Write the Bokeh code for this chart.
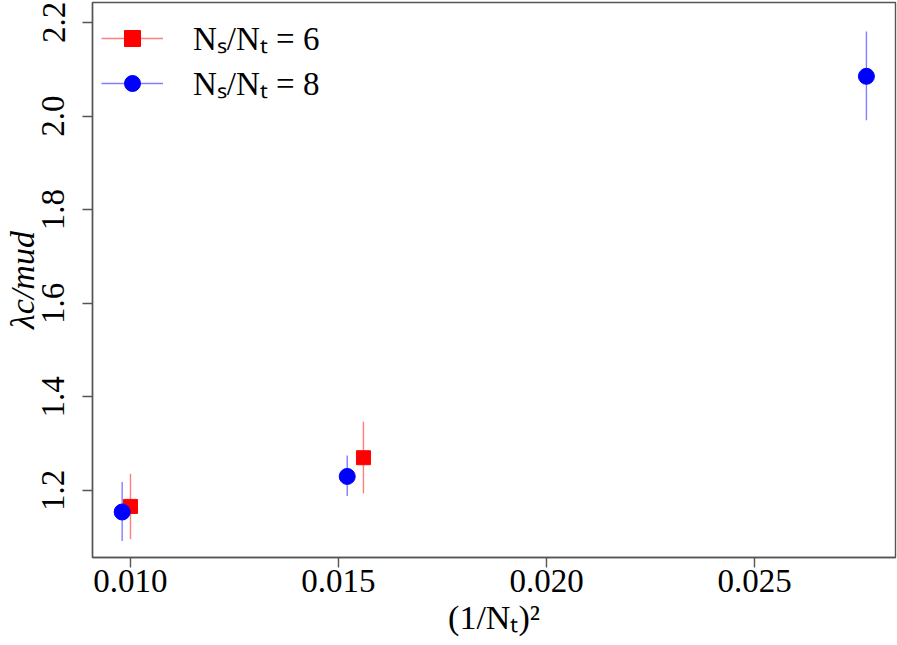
import numpy as np
from bokeh.plotting import figure
from bokeh.models import (Range1d, FixedTicker, Legend, LegendItem,
                          ColumnDataSource)
from bokeh.core.properties import value
from bokeh.embed import file_html
from bokeh.resources import INLINE

# ---- data ----
x_ns6 = [0.0100, 0.0156]
y_ns6 = [1.166, 1.270]
lo_ns6 = [1.096, 1.194]
hi_ns6 = [1.236, 1.347]

x_ns8 = [0.0098, 0.01521, 0.02769]
y_ns8 = [1.154, 1.230, 2.085]
lo_ns8 = [1.092, 1.188, 1.991]
hi_ns8 = [1.218, 1.275, 2.181]

x_ticks = [0.010, 0.015, 0.020, 0.025]
x_tick_labels = ["0.010", "0.015", "0.020", "0.025"]
y_ticks = [1.2, 1.4, 1.6, 1.8, 2.0, 2.2]
y_tick_labels = ["1.2", "1.4", "1.6", "1.8", "2.0", "2.2"]

series_labels = ["Nₛ/Nₜ = 6", "Nₛ/Nₜ = 8"]
x_title = "(1/Nₜ)²"
y_title = "λc/mud"

FONT = "Liberation Serif"
AXC = "#555555"

p = figure(width=897, height=645, output_backend="svg", toolbar_location=None,
           x_range=Range1d(0.009087, 0.028389), y_range=Range1d(1.0568, 2.2427),
           min_border_left=92, min_border_right=2, min_border_top=2,
           min_border_bottom=88)
p.grid.visible = False
p.outline_line_color = AXC
p.outline_line_width = 1.4

for ax, ticks, labels in ((p.xaxis[0], x_ticks, x_tick_labels),
                          (p.yaxis[0], y_ticks, y_tick_labels)):
    ax.ticker = FixedTicker(ticks=ticks)
    ax.major_label_overrides = {t: l for t, l in zip(ticks, labels)}
    ax.minor_tick_line_color = None
    ax.major_tick_out = 10
    ax.major_tick_in = 0
    ax.major_tick_line_color = AXC
    ax.major_tick_line_width = 1.4
    ax.axis_line_color = AXC
    ax.axis_line_width = 1.4
    ax.major_label_text_font = FONT
    ax.major_label_text_font_size = "33px"
    ax.major_label_text_color = "black"
    ax.axis_label_text_font = FONT
    ax.axis_label_text_font_size = "34px"
    ax.axis_label_text_color = "black"
p.xaxis.major_label_standoff = 2
p.yaxis.major_label_standoff = 18
p.yaxis.major_label_orientation = "vertical"

p.xaxis.axis_label = x_title
p.xaxis.axis_label_text_font_style = "normal"
p.xaxis.axis_label_standoff = 4
p.yaxis.axis_label = y_title
p.yaxis.axis_label_text_font_style = "italic"
p.yaxis.axis_label_standoff = -1

src6 = ColumnDataSource(dict(x=x_ns6, y=y_ns6, lo=lo_ns6, hi=hi_ns6))
src8 = ColumnDataSource(dict(x=x_ns8, y=y_ns8, lo=lo_ns8, hi=hi_ns8))

seg6 = p.segment(x0="x", y0="lo", x1="x", y1="hi", source=src6,
                 line_color="red", line_alpha=0.5, line_width=1.4)
sc6 = p.scatter(x="x", y="y", source=src6, marker="square", size=14,
                fill_color="red", line_color="red")
seg8 = p.segment(x0="x", y0="lo", x1="x", y1="hi", source=src8,
                 line_color="blue", line_alpha=0.5, line_width=1.4)
sc8 = p.scatter(x="x", y="y", source=src8, marker="circle", size=16,
                fill_color="blue", line_color="blue")

legend = Legend(items=[LegendItem(label=value(series_labels[0]), renderers=[seg6, sc6]),
                       LegendItem(label=value(series_labels[1]), renderers=[seg8, sc8])],
                location=(9, 452), border_line_color=None,
                background_fill_alpha=0, padding=0, margin=0, spacing=-5,
                glyph_width=62, glyph_height=40, label_standoff=30,
                label_height=40, label_text_font=FONT,
                label_text_font_size="33px", label_text_color="black",
                label_text_baseline="middle")
p.add_layout(legend)

open("out.html", "w").write(file_html(p, INLINE))
